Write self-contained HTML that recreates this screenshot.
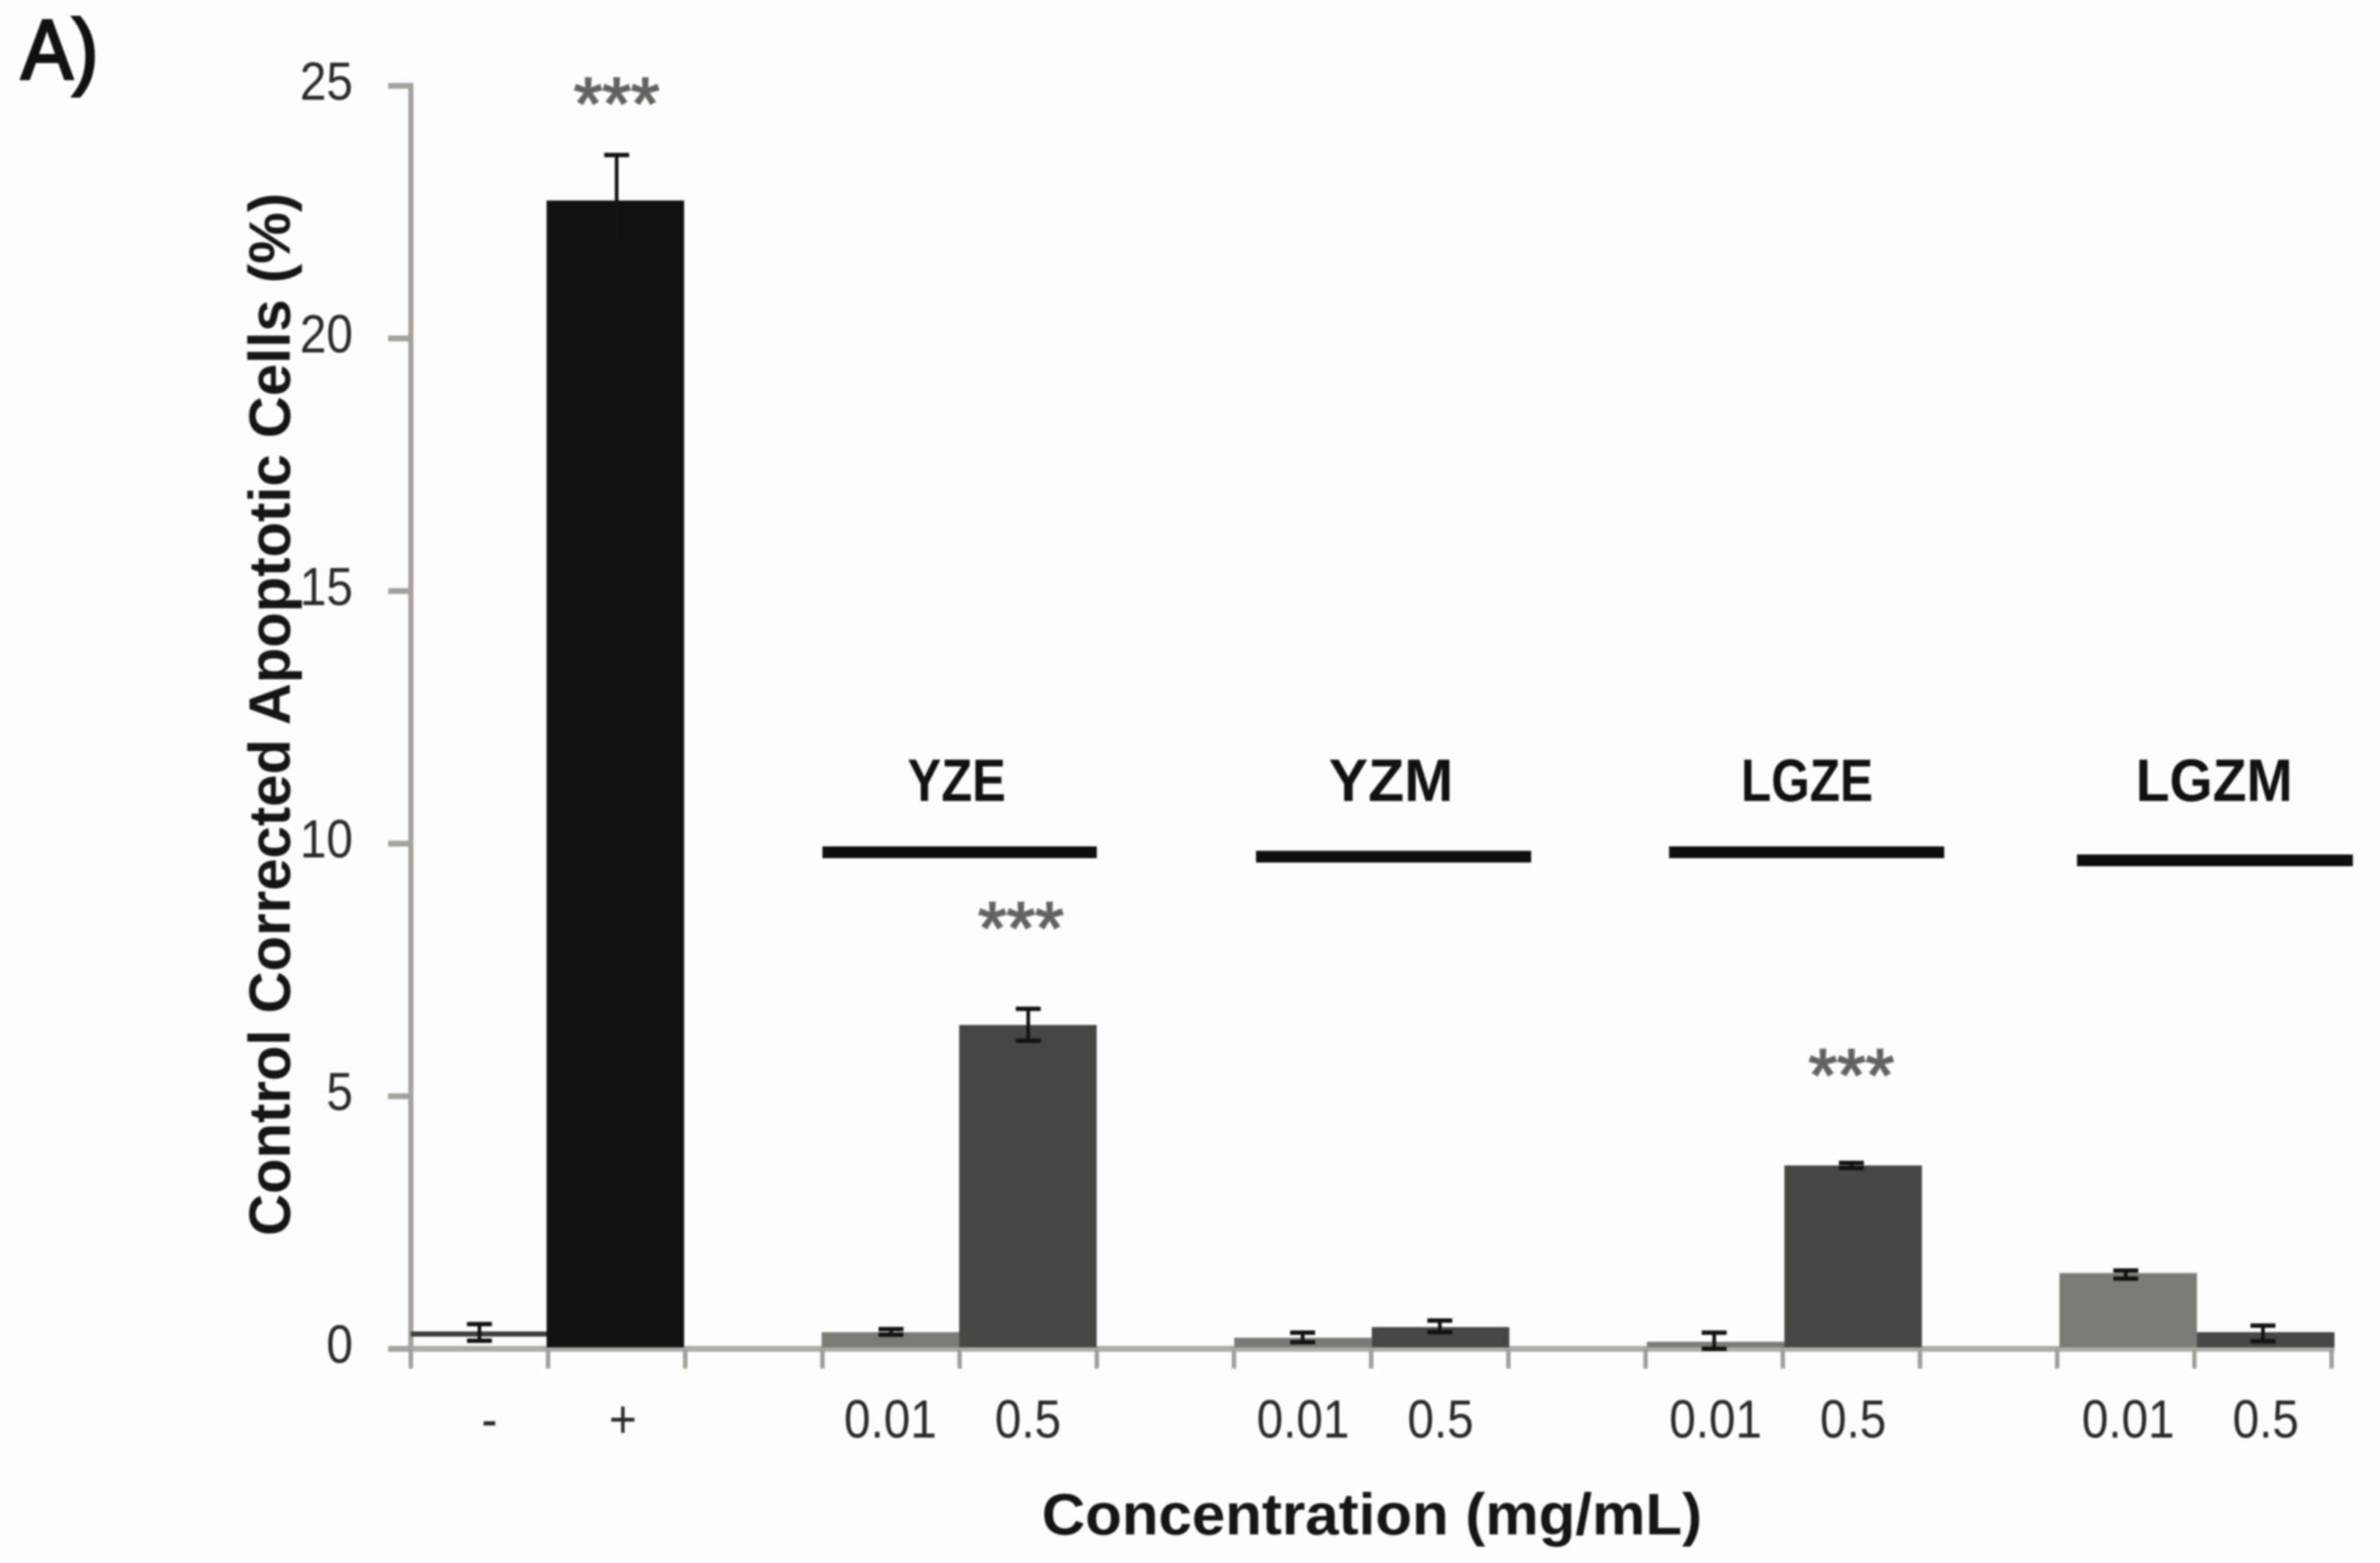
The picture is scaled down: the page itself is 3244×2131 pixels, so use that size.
<!DOCTYPE html>
<html lang="en">
<head>
<meta charset="utf-8">
<title>Control Corrected Apoptotic Cells</title>
<style>
  html, body { margin: 0; padding: 0; background: #fdfdfd; width: 3244px; height: 2131px; overflow: hidden; }
  svg { display: block; filter: blur(1.3px); font-family: "Liberation Sans", sans-serif; }
</style>
</head>
<body>
<svg id="chart" xmlns="http://www.w3.org/2000/svg" width="3244" height="2131" viewBox="0 0 3244 2131">
  <rect x="0" y="0" width="3244" height="2131" fill="#fdfdfd"/>
  <text x="29" y="107" font-size="115" fill="#111" stroke="#111" stroke-width="4" textLength="105" lengthAdjust="spacingAndGlyphs">A)</text>
  <text transform="translate(395,1685) rotate(-90)" font-size="80" font-weight="bold" fill="#151515" textLength="1422" lengthAdjust="spacingAndGlyphs">Control Corrected Apoptotic Cells (%)</text>
  <text x="1420" y="2092" font-size="80" font-weight="bold" fill="#151515" textLength="900" lengthAdjust="spacingAndGlyphs">Concentration (mg/mL)</text>

  <text x="1237" y="1092" font-size="82" font-weight="bold" fill="#111" textLength="134" lengthAdjust="spacingAndGlyphs">YZE</text>
  <rect x="1121" y="1154" width="374" height="16" fill="#0e0e0c"/>
  <text x="1811" y="1092" font-size="82" font-weight="bold" fill="#111" textLength="170" lengthAdjust="spacingAndGlyphs">YZM</text>
  <rect x="1712" y="1160" width="375" height="16" fill="#0e0e0c"/>
  <text x="2373" y="1092" font-size="82" font-weight="bold" fill="#111" textLength="180" lengthAdjust="spacingAndGlyphs">LGZE</text>
  <rect x="2275" y="1154" width="375" height="16" fill="#0e0e0c"/>
  <text x="2911" y="1092" font-size="82" font-weight="bold" fill="#111" textLength="214" lengthAdjust="spacingAndGlyphs">LGZM</text>
  <rect x="2831" y="1165" width="376" height="16" fill="#0e0e0c"/>
</svg>
<script>
// Chart data
const categories = ['-', '+', '', '0.01', '0.5', '', '0.01', '0.5', '', '0.01', '0.5', '', '0.01', '0.5'];
const seriesValues = [0.3, 22.73, null, 0.33, 6.41, null, 0.22, 0.43, null, 0.14, 3.63, null, 1.5, 0.33];
const errorHigh = [0.49, 23.63, null, 0.39, 6.73, null, 0.32, 0.56, null, 0.32, 3.68, null, 1.55, 0.46];
const errorLow = [0.16, 21.8, null, 0.28, 6.1, null, 0.13, 0.33, null, 0, 3.58, null, 1.39, 0.15];
const barKinds = ['control', 'black', '', 'light', 'dark', '', 'light', 'dark', '', 'light', 'dark', '', 'light', 'dark'];
const yTicks = [0, 5, 10, 15, 20, 25];
const sigSlots = [1, 4, 10];
const sigLevels = [24.88, 8.56, 5.65];

const svg = document.getElementById('chart');
const NS = 'http://www.w3.org/2000/svg';
const kindColors = { control: '#fdfdfd', black: '#11110f', dark: '#454742', light: '#7b7b76' };

function y(v) { return 1839 - v * 68.88; }
function xEdge(i) { return 560 + i * 187; }
function xMid(i) { return xEdge(i + 0.5); }
function xBar(i) { return Math.max(560, 745 + (i - 1) * 187.46); }
function xBarMid(i) { return 745 + (i - 0.5) * 187.46; }

function make(tag, props, parent) {
  const el = document.createElementNS(NS, tag);
  for (const k in props) el.setAttribute(k, props[k]);
  (parent || svg).appendChild(el);
  return el;
}

// Y axis
const yAxisLine = make('rect', { x: 556.5, y: y(25) - 4, width: 7, height: y(0) - y(25) + 8, fill: '#a5a29c' });



// X axis
const xAxisLine = make('rect', { x: 529, y: y(0) - 4, width: xEdge(14) - 529 + 4, height: 8, fill: '#aeaba5' });



yTicks.forEach(function (t) {
  const tick = make('rect', { x: 529, y: y(t) - 4, width: 32, height: 8, fill: '#a5a29c' });
  
  
  const label = make('text', {
    transform: 'translate(481,' + (y(t) + 19) + ') scale(0.89,1)',
    'text-anchor': 'end', 'font-size': 73, fill: '#2a2a2a'
  });
  label.textContent = String(t);
  
  
});

for (let i = 0; i <= 14; i++) {
  const tick = make('rect', { x: xEdge(i) - 3, y: y(0), width: 6, height: 27, fill: '#a09e98' });
  
  
}

// Bars
categories.forEach(function (cat, i) {
  const v = seriesValues[i];
  if (v === null) return;
  const kind = barKinds[i];
  const x0 = xBar(i);
  const w = xBar(i + 1) - x0;
  const bar = make('rect', { x: x0, y: y(v), width: w, height: Math.max(0, y(0) - 2 - y(v)), fill: kindColors[kind] });
  
  
  if (kind === 'control') {
    bar.setAttribute('fill', 'none');
    const top = make('rect', { x: x0, y: y(v) - 3, width: w, height: 7, fill: '#3b3d39' });
    
    
  }
});

// Error bars
categories.forEach(function (cat, i) {
  if (seriesValues[i] === null) return;
  const cx = xMid(i);
  const hi = y(errorHigh[i]);
  const lo = y(errorLow[i]);
  const stem = make('rect', { x: cx - 2.5, y: hi, width: 5, height: lo - hi, fill: '#121210' });
  
  
  const capHigh = make('rect', { x: cx - 17, y: hi - 3, width: 34, height: 6, fill: '#121210' });
  
  
  const capLow = make('rect', { x: cx - 17, y: lo - 3, width: 34, height: 6, fill: '#121210' });
  
  
});

// Category labels
categories.forEach(function (cat, i) {
  if (!cat) return;
  const pos = i === 0 ? 667 - 0 : (i === 1 ? 849 : xBarMid(i));
  const label = make('text', {
    transform: 'translate(' + pos + ',1960) scale(0.89,1)',
    'text-anchor': 'middle', 'font-size': 73, fill: '#2a2a2a'
  });
  label.textContent = cat;
  
  
});

// Significance stars
sigSlots.forEach(function (slot, i) {
  const stars = make('text', {
    x: xMid(slot) + (slot === 4 ? -10 : 0), y: y(sigLevels[i]) + 50,
    'text-anchor': 'middle', 'font-size': 100, fill: '#5f5f5b',
    stroke: '#6a6a66', 'stroke-width': 2.5
  });
  stars.textContent = '***';
  
  
});
</script>
</body>
</html>
